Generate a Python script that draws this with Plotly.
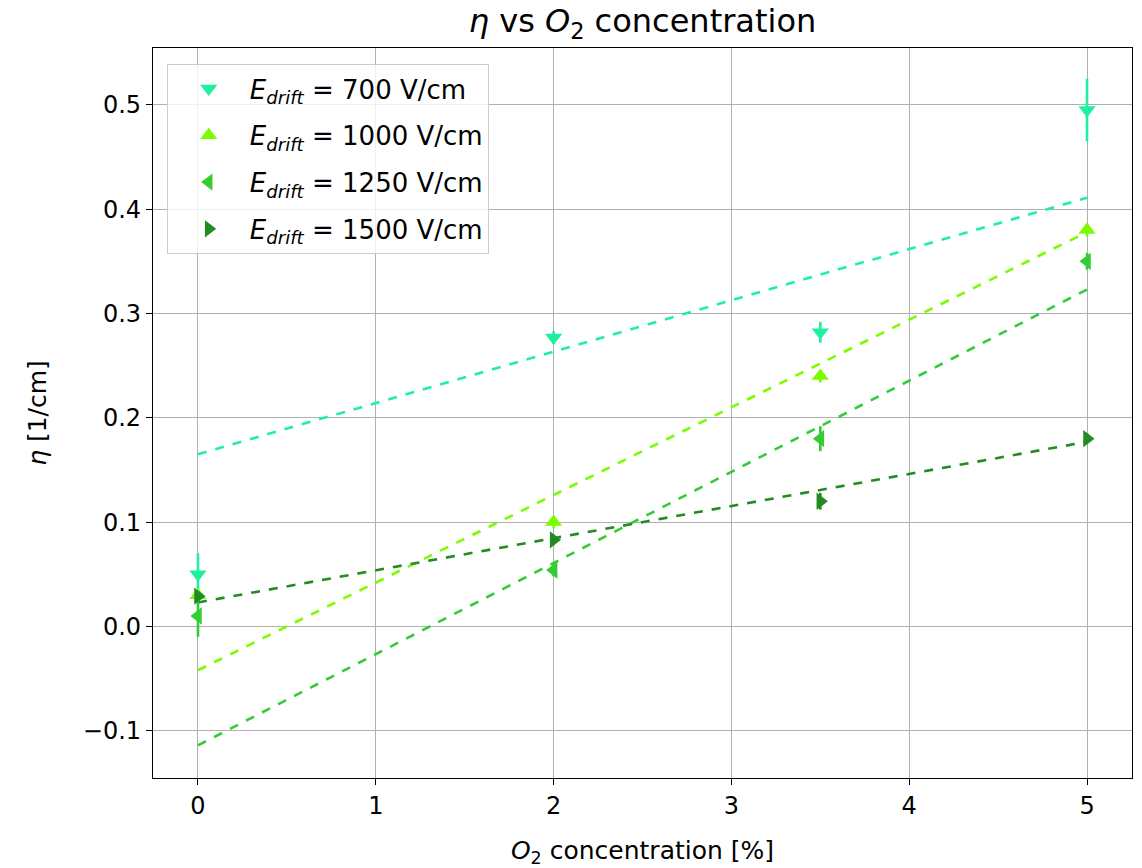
import plotly.graph_objects as go
import numpy as np

# ---- data ----
o2_conc = [0, 2, 3.5, 5]
fields = ["700", "1000", "1250", "1500"]
eta_700 = [0.050, 0.277, 0.282, 0.495]
eta_1000 = [0.030, 0.100, 0.240, 0.380]
eta_1250 = [0.010, 0.054, 0.180, 0.350]
eta_1500 = [0.029, 0.083, 0.120, 0.180]
err_700 = [0.020, 0.006, 0.010, 0.030]
err_1000 = [0.005, 0.006, 0.006, 0.006]
err_1250 = [0.020, 0.006, 0.012, 0.008]
err_1500 = [0.005, 0.005, 0.008, 0.005]
fit_intercept = [0.165, -0.042, -0.114, 0.023]
fit_slope = [0.0492, 0.0840, 0.0874, 0.0308]

colors = ["#1EF0A0", "#7CFC00", "#32CD32", "#228B22"]
symbols = ["triangle-down", "triangle-up", "triangle-left", "triangle-right"]
etas = [eta_700, eta_1000, eta_1250, eta_1500]
errs = [err_700, err_1000, err_1250, err_1500]

FONT = "DejaVu Sans"
fig = go.Figure()

xfit = np.array([min(o2_conc), max(o2_conc)])
for i in range(4):
    fig.add_trace(go.Scatter(
        x=xfit, y=fit_intercept[i] + fit_slope[i] * xfit,
        mode="lines", line=dict(color=colors[i], width=2.6, dash="dash"),
        showlegend=False, hoverinfo="skip"))

for i in range(4):
    fig.add_trace(go.Scatter(
        x=o2_conc, y=etas[i], mode="markers",
        name=f"<i>E</i><sub><i>drift</i></sub> = {fields[i]} V/cm",
        legendgroup=f"g{i}",
        marker=dict(symbol=symbols[i], size=15, color=colors[i], line=dict(width=0)),
        error_y=dict(type="data", array=errs[i], visible=True, width=0,
                     thickness=2.6, color=colors[i])))

yticks = [-0.1, 0.0, 0.1, 0.2, 0.3, 0.4, 0.5]
ytext = [f"{v:.1f}".replace("-", "\u2212") for v in yticks]

fig.update_layout(
    width=1142, height=868,
    paper_bgcolor="white", plot_bgcolor="white",
    margin=dict(l=153, r=9, t=48, b=88),
    font=dict(family=FONT, size=24, color="black"),
    title=dict(text="<i>η</i> vs <i>O</i><sub>2</sub> concentration",
               x=0.5, xref="paper", xanchor="center", y=0.976, yanchor="middle",
               font=dict(size=32)),
    legend=dict(x=0.014, y=0.978, xanchor="left", yanchor="top",
                bgcolor="rgba(255,255,255,0.8)", bordercolor="#cccccc", borderwidth=1,
                font=dict(size=26), itemsizing="trace", itemwidth=72,
                tracegroupgap=10),
    showlegend=True,
)
fig.update_xaxes(range=[-0.253, 5.253], tickvals=[0, 1, 2, 3, 4, 5],
                 showgrid=True, gridcolor="#b0b0b0", gridwidth=1,
                 showline=True, linecolor="black", linewidth=1.2, mirror=True,
                 ticks="outside", ticklen=6, tickcolor="black", zeroline=False,
                 tickfont=dict(size=24),
                 title=dict(text="<i>O</i><sub>2</sub> concentration [%]", standoff=22,
                            font=dict(size=25)))
fig.update_yaxes(range=[-0.1453, 0.5545], tickvals=yticks, ticktext=ytext,
                 showgrid=True, gridcolor="#b0b0b0", gridwidth=1,
                 showline=True, linecolor="black", linewidth=1.2, mirror=True,
                 ticks="outside", ticklen=6, tickcolor="black", zeroline=False,
                 tickfont=dict(size=24),
                 title=dict(text="<i>η</i> [1/cm]", standoff=29, font=dict(size=25)))

fig.write_html("out.html")
